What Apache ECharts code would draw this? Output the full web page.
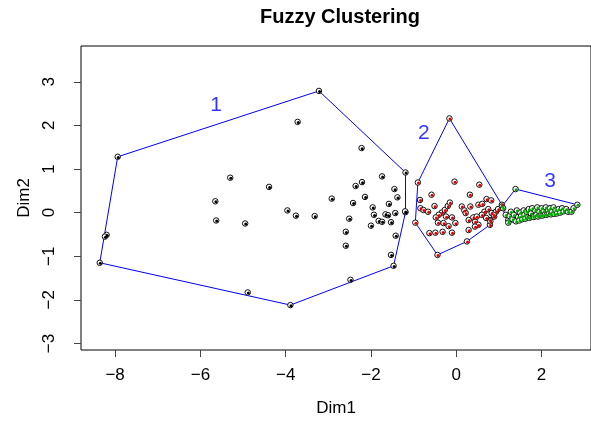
<!DOCTYPE html>
<html>
<head>
<meta charset="utf-8">
<script src="https://cdn.jsdelivr.net/npm/echarts@6/dist/echarts.min.js"></script>
<style>
  html, body { margin: 0; padding: 0; background: #fff; }
  #chart { width: 591px; height: 425px; }
</style>
</head>
<body>
<div id="chart"></div>
<script>
// points, one array per cluster
var cluster1 = [
  [-3.22, 2.79], [-1.19, 0.92], [-1.19, 0.01], [-1.47, -1.22], [-2.48, -1.54], [-3.89, -2.12],
  [-4.89, -1.83], [-8.36, -1.15], [-8.20, -0.51], [-8.24, -0.55], [-7.94, 1.28],
  [-3.72, 2.08], [-2.22, 1.48], [-1.74, 0.83], [-5.30, 0.80], [-4.39, 0.59], [-5.65, 0.26],
  [-5.63, -0.18], [-4.95, -0.25], [-3.96, 0.05], [-3.76, -0.07], [-3.32, -0.08], [-2.92, 0.32],
  [-2.36, 0.61], [-2.21, 0.70], [-2.42, 0.22], [-2.14, 0.36], [-2.51, -0.14], [-2.59, -0.44],
  [-2.59, -0.76], [-1.96, 0.12], [-1.93, -0.05], [-2.00, -0.30], [-1.82, -0.19], [-1.74, -0.21],
  [-1.66, -0.04], [-1.60, -0.06], [-1.53, -0.22], [-1.43, -0.01], [-1.58, 0.20], [-1.45, 0.54],
  [-1.38, 0.35], [-1.42, -0.53], [-1.53, -0.97], [-1.20, 0.03]
];
var cluster2 = [
  [-0.16, 2.16], [-0.90, 0.69], [-0.96, -0.23], [-0.44, -0.97], [0.25, -0.66], [0.79, -0.28],
  [1.07, 0.18], [-0.04, 0.71], [0.54, 0.64], [-0.58, 0.41], [0.32, 0.41], [-0.85, 0.29],
  [-0.84, 0.10], [-0.77, 0.06], [-0.66, 0.02], [-0.51, 0.15], [-0.34, 0.00], [-0.27, 0.06],
  [-0.20, 0.15], [-0.15, 0.23], [-0.41, -0.05], [-0.48, -0.11], [-0.24, -0.09], [-0.10, -0.11],
  [-0.43, -0.23], [-0.30, -0.24], [-0.18, -0.31], [-0.02, -0.24], [-0.63, -0.47], [-0.49, -0.46],
  [-0.32, -0.44], [-0.10, -0.46], [0.13, 0.14], [0.19, 0.05], [0.22, -0.01], [0.33, 0.14],
  [0.52, 0.18], [0.61, 0.20], [0.71, 0.31], [0.82, 0.28], [0.40, -0.11], [0.48, -0.09],
  [0.44, -0.21], [0.52, -0.28], [0.29, -0.17], [0.29, -0.40], [0.44, -0.32], [0.66, 0.02],
  [0.75, 0.08], [0.83, -0.01], [0.89, -0.09], [0.79, -0.17], [0.93, 0.02], [0.88, -0.05],
  [0.80, -0.20], [0.98, 0.08], [0.70, -0.12], [0.60, -0.05]
];
var cluster3 = [
  [1.07, 0.14], [1.10, 0.10], [1.16, -0.05], [1.22, -0.17], [1.22, -0.23], [1.25, -0.08],
  [1.28, 0.02], [1.32, -0.15], [1.35, -0.05], [1.39, 0.54], [1.40, -0.20], [1.42, 0.05],
  [1.45, -0.10], [1.48, -0.18], [1.50, 0.00], [1.52, -0.08], [1.55, -0.15], [1.58, 0.05],
  [1.60, -0.05], [1.62, -0.14], [1.65, 0.02], [1.68, -0.10], [1.70, 0.08], [1.72, -0.12],
  [1.75, -0.02], [1.78, 0.10], [1.80, -0.08], [1.82, -0.10], [1.85, 0.05], [1.88, -0.05],
  [1.90, 0.12], [1.92, -0.09], [1.95, 0.02], [1.98, -0.06], [2.00, 0.10], [2.02, -0.07],
  [2.05, 0.04], [2.08, -0.04], [2.10, 0.12], [2.12, -0.05], [2.15, 0.06], [2.18, -0.02],
  [2.20, 0.10], [2.22, -0.04], [2.25, 0.03], [2.28, 0.12], [2.30, -0.03], [2.33, 0.06],
  [2.36, -0.02], [2.40, 0.08], [2.44, 0.00], [2.48, 0.10], [2.52, 0.03], [2.58, 0.08],
  [2.62, 0.02], [2.70, 0.02], [2.75, 0.10], [2.84, 0.18]
];
var clusterColors = ['#000000', '#e00000', '#00b000'];
var clusterLabels = ['1', '2', '3'];
var labelX = [-5.63, -0.76, 2.20];
var labelY = [2.47, 1.82, 0.71];
var xTicks = [-8, -6, -4, -2, 0, 2];
var yTicks = [-3, -2, -1, 0, 1, 2, 3];

// convex hull (monotone chain), closed polygon
function hull(pts) {
  var p = pts.slice().sort(function (a, b) { return a[0] - b[0] || a[1] - b[1]; });
  function cross(o, a, b) { return (a[0] - o[0]) * (b[1] - o[1]) - (a[1] - o[1]) * (b[0] - o[0]); }
  var lower = [], upper = [];
  p.forEach(function (q) {
    while (lower.length >= 2 && cross(lower[lower.length - 2], lower[lower.length - 1], q) <= 0) lower.pop();
    lower.push(q);
  });
  for (var i = p.length - 1; i >= 0; i--) {
    while (upper.length >= 2 && cross(upper[upper.length - 2], upper[upper.length - 1], p[i]) <= 0) upper.pop();
    upper.push(p[i]);
  }
  lower.pop(); upper.pop();
  var h = lower.concat(upper);
  h.push(h[0]);
  return h;
}

function minus(v) { return String(v).replace('-', '\u2212'); }

var clusters = [cluster1, cluster2, cluster3];
var series = [];
clusters.forEach(function (c) {
  series.push({
    type: 'line', data: hull(c), showSymbol: false, silent: true,
    lineStyle: { color: '#0000ff', width: 1 }, z: 1
  });
});
clusters.forEach(function (c, i) {
  series.push({
    type: 'scatter', data: c, symbolSize: 5.5, z: 2,
    itemStyle: { color: '#ffffff', borderColor: '#111', borderWidth: 1, opacity: 1 }
  });
  series.push({
    type: 'scatter', data: c, symbolSize: 3, symbolOffset: [0.6, 0.6], z: 3,
    itemStyle: { color: clusterColors[i], opacity: 1 }
  });
});
series.push({
  type: 'scatter', symbolSize: 0, z: 4,
  data: clusterLabels.map(function (l, i) { return { value: [labelX[i], labelY[i]], name: l }; }),
  label: {
    show: true, position: 'inside', formatter: '{b}',
    color: '#0000ff', fontSize: 21, fontFamily: 'Liberation Sans, Arial, sans-serif'
  }
});

var chart = echarts.init(document.getElementById('chart'));
chart.setOption({
  animation: false,
  textStyle: { fontFamily: 'Liberation Sans, Arial, sans-serif' },
  title: {
    text: 'Fuzzy Clustering', left: 335, top: 2, textAlign: 'center',
    textStyle: { fontSize: 20, fontWeight: 'bold', color: '#000' }
  },
  grid: {
    left: 81, right: -2, top: 46, bottom: 75, show: true,
    borderColor: '#000', borderWidth: 1, backgroundColor: '#fff'
  },
  xAxis: {
    type: 'value', min: -8.8, max: 3.16,
    name: 'Dim1', nameLocation: 'middle', nameGap: 50,
    nameTextStyle: { fontSize: 17, color: '#000' },
    axisLine: { show: false, onZero: false },
    splitLine: { show: false },
    axisTick: { show: true, customValues: xTicks, length: 7, lineStyle: { color: '#444' } },
    axisLabel: { customValues: xTicks, margin: 17, fontSize: 17, color: '#000', formatter: minus }
  },
  yAxis: {
    type: 'value', min: -3.15, max: 3.82,
    name: 'Dim2', nameLocation: 'middle', nameGap: 46,
    nameTextStyle: { fontSize: 17, color: '#000' },
    axisLine: { show: false, onZero: false },
    splitLine: { show: false },
    axisTick: { show: true, customValues: yTicks, length: 7, lineStyle: { color: '#444' } },
    axisLabel: { customValues: yTicks, margin: 23, rotate: 90, fontSize: 17, color: '#000', formatter: minus }
  },
  series: series
});
</script>
</body>
</html>
